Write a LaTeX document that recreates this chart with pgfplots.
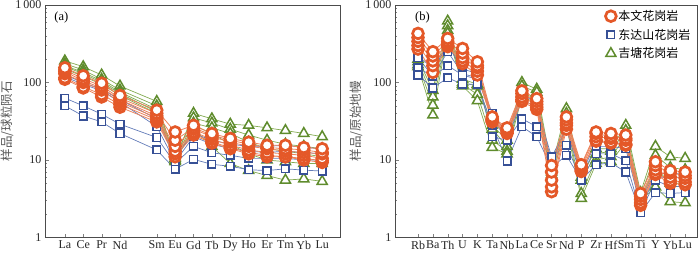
\documentclass[border=0pt]{standalone}
\usepackage{pgfplots}
\pgfplotsset{compat=1.18}
\usepackage{pgfplotstable}
\usepackage{fontspec}
\setmainfont{Liberation Serif}
\newfontfamily\cjk{Noto Sans CJK SC}
\definecolor{orC}{RGB}{228,88,40}
\definecolor{orL}{RGB}{236,130,90}
\definecolor{blC}{RGB}{55,80,150}
\definecolor{blL}{RGB}{100,125,185}
\definecolor{grC}{RGB}{95,140,45}
\definecolor{grL}{RGB}{130,170,80}

\pgfplotstableread{
x O1 O2 O3 O4 O5 O6 B1 B2 B3 B4 G1 G2 G3 G4 G5
0 155 145 138 130 115 110 125 118 63 50 190 175 165 160 150
1 122 112 105 100 88 85 100 95 50 37 160 145 135 130 120
2 98 90 85 80 70 65 82 78 39 31 125 110 105 100 95
3 68 63 60 56 52 48 60 56 29 22 90 80 75 72 68
5 44 40 37 35 33 31 34 27 19.5 13.5 57 50 45 42 40
6 23 18 15 13 12 11 11 9.5 9 7.6 10 11 10.5 9.5 9.8
7 28 26 25 23 22 21 22 20 15 10.2 40 35 30 28 25
8 22 21 20 18.5 17 16.5 18 16 12.4 8.8 34 30 26 22 15
9 19 18 17 15.5 14.5 14 16 14 11.5 8.3 29 25 22 16 9
10 17 16 15 13.5 12.5 12 15 13 10.5 7.5 28 21 17 12 7.3
11 15.5 14.5 14 12.5 11.5 11 15 12.5 10.5 7.3 26 18 14 10 6.3
12 15.5 14 13 12 11 11 15.5 13 10.5 7.7 24 16 13 9.5 5.5
13 14.5 13.5 12.5 11.5 10.5 10 14.5 12.5 10 7.4 22 15 12 9 5.7
14 14 12.5 12 10.5 9.8 9.3 14 12 10 7.2 20 14 11 9 5.3
}\tabA

\pgfplotstableread{
x O1 O2 O3 O4 O5 B1 B2 B3 B4 G1 G2 G3 G4
0 430 380 340 300 270 225 210 155 125 200 185 170 160
1 250 220 190 165 135 150 120 120 85 79 65 51 38
2 370 340 320 300 290 300 250 165 115 620 540 470 430
3 275 240 210 190 175 150 130 125 95 110 100 95 90
4 185 165 155 140 125 130 115 110 95 95 90 70 58
5 36 34 33 32 31 40 35 20 28 28 25 18 14.5
6 26 25 24 23 22 22 18 18 9.7 18 15 13 12
7 78 72 65 60 57 70 60 34 27 100 90 75 65
8 62 57 52 48 45 55 48 27 20 82 75 60 55
9 8.5 7 5.5 4.5 3.9 9 11 11 8 8 7 6.5 6
10 36 33 30 28 25 28 25 15.5 11.5 46 40 32 28
11 8.7 8.3 7.8 7.3 7.1 6.5 6 5.5 5.5 6 5.5 3.7 3.2
12 23 22 20 18 17.5 17 15 12 8.7 14 12 10 9
13 22 20 19 17 16.5 17 15 12 9.2 14 13 11 9.5
14 21 19 18 16 15.5 16 14 9.8 7 28 24 20 17
15 3.7 3.4 3.1 2.8 2.6 3 2.5 2.1 2.1 3.8 3.5 3.2 3
16 9.5 8.5 7.5 6.8 6.5 7 6 5.5 3.8 15 11.5 8 4.5
17 7.3 6.8 6 5.4 5 6.5 6 4.5 3.7 11 8 5 2.9
18 7 6.3 5.8 5.2 4.8 6.8 6 4.6 3.8 10.5 7.5 5 2.8
}\tabB

\pgfplotsset{
  orS/.style={color=orL, line width=0.8pt, mark=*, mark size=5.4pt,
    mark options={draw=orC, fill=white, line width=2.7pt}},
  blS/.style={color=blL, line width=0.7pt, mark=square*, mark size=3.8pt,
    mark options={draw=blC, fill=white, line width=1.5pt}},
  grS/.style={color=grL, line width=0.7pt, mark=triangle*, mark size=5.8pt,
    mark options={draw=grC, fill=white, line width=1.5pt}},
}

\begin{document}
\begin{tikzpicture}
\path[use as bounding box] (0,0) rectangle (700pt,254pt);
\begin{axis}[at={(45pt,16.5pt)}, anchor=south west, width=295pt,
  scale only axis, height=232.5pt, ymode=log, ymin=1, ymax=1000,
  ytick={1,10,100,1000}, yticklabels={1,10,100,{1\,000}},
  ytick pos=left, xtick pos=bottom, tick align=inside,
  major tick length=4pt, minor tick length=2.2pt,
  tick label style={font=\fontsize{12}{14}\selectfont, text=black!85},
  axis line style={black!70},
  ylabel style={at={(axis description cs:-0.103,0.5)}, anchor=south, inner sep=0.5pt,
    font=\cjk\fontsize{12.5}{14}\selectfont, text=black!65},
  xmin=-1.08, xmax=14.97,
  xtick={0,1,2,3,5,6,7,8,9,10,11,12,13,14},
  xticklabels={La,Ce,Pr,Nd,Sm,Eu,Gd,Tb,Dy,Ho,Er,Tm,Yb,Lu},
  ylabel={样品/球粒陨石}]
\pgfplotsinvokeforeach{G1,G2,G3,G4,G5}{\addplot[grS, forget plot] table[x=x,y=#1]{\tabA};}
\pgfplotsinvokeforeach{B1,B2,B3,B4}{\addplot[blS, forget plot] table[x=x,y=#1]{\tabA};}
\pgfplotsinvokeforeach{O6,O5,O4,O3,O2,O1}{\addplot[orS, forget plot] table[x=x,y=#1]{\tabA};}
\node[anchor=north west, font=\fontsize{12.5}{14}\selectfont] at (axis description cs:0.02,0.985) {(a)};
\end{axis}
\begin{axis}[at={(395pt,16.5pt)}, anchor=south west, width=302pt,
  scale only axis, height=232.5pt, ymode=log, ymin=1, ymax=1000,
  ytick={1,10,100,1000}, yticklabels={1,10,100,{1\,000}},
  ytick pos=left, xtick pos=bottom, tick align=inside,
  major tick length=4pt, minor tick length=2.2pt,
  tick label style={font=\fontsize{12}{14}\selectfont, text=black!85},
  axis line style={black!70},
  ylabel style={at={(axis description cs:-0.103,0.5)}, anchor=south, inner sep=0.5pt,
    font=\cjk\fontsize{12.5}{14}\selectfont, text=black!65},
  xmin=-1.55, xmax=18.8,
  xtick={0,...,18},
  xticklabels={Rb,Ba,Th,U,K,Ta,Nb,La,Ce,Sr,Nd,P,Zr,Hf,Sm,Ti,Y,Yb,Lu},
  ylabel={样品/原始地幔},
  legend style={at={(0.995,0.995)}, anchor=north east, draw=none, fill=none,
    font=\cjk\fontsize{12}{14}\selectfont, row sep=3pt},
  legend cell align=left]
\addlegendimage{only marks, mark=*, mark size=5.4pt, mark options={draw=orC, fill=white, line width=2.7pt}}
\addlegendentry{本文花岗岩}
\addlegendimage{only marks, mark=square*, mark size=3.8pt, mark options={draw=blC, fill=white, line width=1.5pt}}
\addlegendentry{东达山花岗岩}
\addlegendimage{only marks, mark=triangle*, mark size=5.8pt, mark options={draw=grC, fill=white, line width=1.5pt}}
\addlegendentry{吉塘花岗岩}
\pgfplotsinvokeforeach{G1,G2,G3,G4}{\addplot[grS, forget plot] table[x=x,y=#1]{\tabB};}
\pgfplotsinvokeforeach{B1,B2,B3,B4}{\addplot[blS, forget plot] table[x=x,y=#1]{\tabB};}
\pgfplotsinvokeforeach{O5,O4,O3,O2,O1}{\addplot[orS, forget plot] table[x=x,y=#1]{\tabB};}
\node[anchor=north west, font=\fontsize{12.5}{14}\selectfont] at (axis description cs:0.055,0.985) {(b)};
\end{axis}
\end{tikzpicture}
\end{document}
